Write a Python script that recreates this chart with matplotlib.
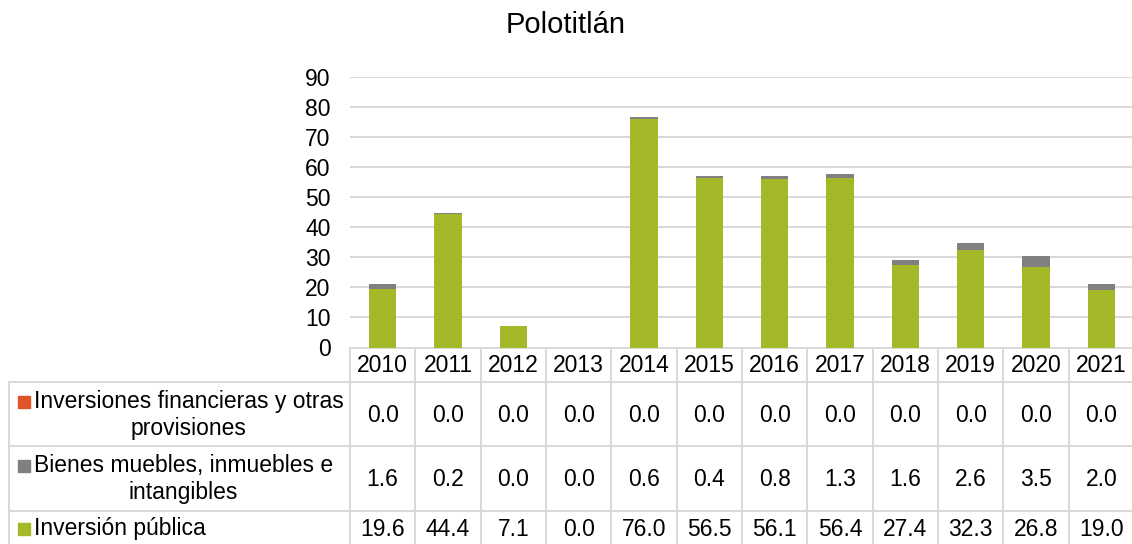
import matplotlib
matplotlib.use("Agg")
import matplotlib.pyplot as plt
import matplotlib.transforms as mtransforms
import numpy as np

plt.rcParams['font.family'] = ['Liberation Sans', 'DejaVu Sans']

# data
years = ["2010", "2011", "2012", "2013", "2014", "2015", "2016", "2017", "2018", "2019", "2020", "2021"]
inversion_publica = [19.6, 44.4, 7.1, 0.0, 76.0, 56.5, 56.1, 56.4, 27.4, 32.3, 26.8, 19.0]
bienes_muebles = [1.6, 0.2, 0.0, 0.0, 0.6, 0.4, 0.8, 1.3, 1.6, 2.6, 3.5, 2.0]
inversiones_fin = [0.0, 0.0, 0.0, 0.0, 0.0, 0.0, 0.0, 0.0, 0.0, 0.0, 0.0, 0.0]

series_labels = ["Inversiones financieras y otras\nprovisiones",
                 "Bienes muebles, inmuebles e\nintangibles",
                 "Inversión pública"]
series_values = [inversiones_fin, bienes_muebles, inversion_publica]

c_green = "#a5b828"
c_gray = "#808080"
c_orange = "#e0542a"
series_colors = [c_orange, c_gray, c_green]
grid_col = "#d9d9d9"
fs = 16.5

W, H = 1132, 544
fig = plt.figure(figsize=(W / 100, H / 100), dpi=100)

# main plot area in pixels: x 350..1134, y 77..347.5 (from top)
ax = fig.add_axes([350 / W, (H - 347.5) / H, 784 / W, 270.5 / H])
x = np.arange(len(years))
pub = np.array(inversion_publica)
bie = np.array(bienes_muebles)
fin = np.array(inversiones_fin)
ax.bar(x, pub, width=0.42, color=c_green, zorder=3)
ax.bar(x, bie, width=0.42, bottom=pub, color=c_gray, zorder=3)
ax.bar(x, fin, width=0.42, bottom=pub + bie, color=c_orange, zorder=3)

ax.set_xlim(-0.5, len(years) - 0.5)
ax.set_ylim(0, 90)
ax.set_yticks(np.arange(0, 91, 10))
ax.tick_params(axis='y', length=0, pad=14, labelsize=fs)
ax.set_xticks([])
ax.grid(axis='y', color=grid_col, lw=1.4, zorder=0)
for s in ax.spines.values():
    s.set_visible(False)

fig.text(0.5, 1 - 25 / H, "Polotitlán", ha='center', va='center', fontsize=21)

# overlay in pixel coords for the data table
ov = fig.add_axes([0, 0, 1, 1], zorder=-1)
ov.set_xlim(0, W)
ov.set_ylim(H, 0)
ov.axis('off')
tr = mtransforms.blended_transform_factory(ax.transData, ov.transData)

row_edges = [347.5, 382, 446, 511, 577]
lw = 1.4
# vertical column lines
for e in np.arange(len(years) + 1) - 0.5:
    ov.plot([e, e], [row_edges[0], row_edges[-1]], color=grid_col, lw=lw,
            transform=tr, clip_on=False)
# horizontal lines
ov.plot([-0.5, len(years) - 0.5], [row_edges[0]] * 2, color=grid_col, lw=lw,
        transform=tr, clip_on=False)
for y in row_edges[1:4]:
    ov.plot([9, W + 5], [y, y], color=grid_col, lw=lw, clip_on=False)
ov.plot([9, 9], [row_edges[1], row_edges[-1]], color=grid_col, lw=lw, clip_on=False)

# year header
for i, yr in enumerate(years):
    ov.text(i, (row_edges[0] + row_edges[1]) / 2 + 1, yr, transform=tr,
            ha='center', va='center', fontsize=fs)

# series rows
row_centers = [415, 479, 529]
for lab, vals, col, yc in zip(series_labels, series_values, series_colors, row_centers):
    n_lines = lab.count("\n") + 1
    first_y = yc - 13 * (n_lines - 1)
    ov.add_patch(plt.Rectangle((18, first_y - 6), 12, 12, color=col))
    ov.text(34, yc, lab, ha='left', va='center', multialignment='center',
            fontsize=fs, linespacing=1.25)
    for i, v in enumerate(vals):
        ov.text(i, yc, "%.1f" % v, transform=tr, ha='center', va='center', fontsize=fs)

plt.savefig("out.png", dpi=100)
